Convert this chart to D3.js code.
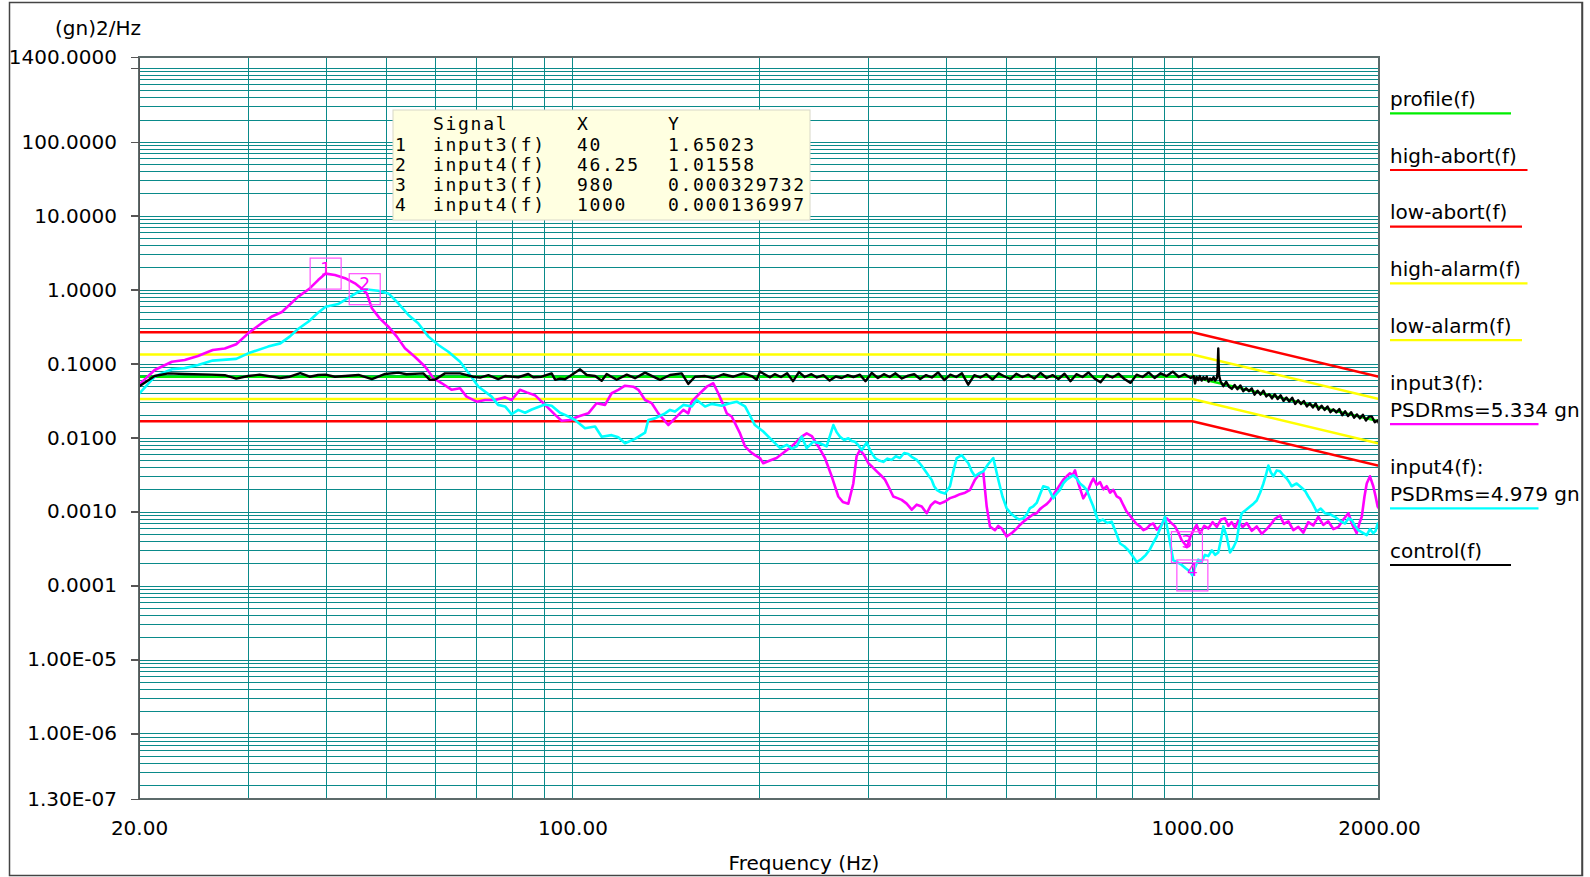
<!DOCTYPE html>
<html>
<head>
<meta charset="utf-8">
<title>PSD control plot</title>
<script src="https://d3js.org/d3.v7.min.js"></script>
<style>
  html, body { margin: 0; padding: 0; background: #fff; }
  svg { display: block; font-family: "DejaVu Sans", sans-serif; }
  .grid line { stroke: #0a8a8a; stroke-width: 1; shape-rendering: crispEdges; }
  .trace { fill: none; stroke-linejoin: round; stroke-linecap: round; }
  .axis path, .axis line { stroke: #555; stroke-width: 1.5; shape-rendering: crispEdges; }
  .axis text { font-family: "DejaVu Sans", sans-serif; font-size: 20px; fill: #000; }
</style>
</head>
<body>
<svg id="chart" width="1590" height="877"></svg>
<script>
'use strict';

// limit lines: breakpoints in Hz and levels in (gn)2/Hz
var limitFreq = [20, 1000, 2000];
var profileVals = [0.0665, 0.0665, 0.0166];
var highAbortVals = [0.266, 0.266, 0.0665];
var lowAbortVals = [0.0166, 0.0166, 0.00416];
var highAlarmVals = [0.133, 0.133, 0.0333];
var lowAlarmVals = [0.0333, 0.0333, 0.0083];

// input3(f) [Hz, (gn)2/Hz]
var input3 = [
  [20.0, 0.052], [21.2, 0.082], [22.6, 0.106], [23.7, 0.112], [24.9, 0.127], [26.3, 0.153],
  [27.5, 0.160], [28.7, 0.183], [30.0, 0.257], [31.5, 0.350], [32.7, 0.430], [34.0, 0.500],
  [36.1, 0.800], [37.7, 1.04], [38.9, 1.35], [40.0, 1.65], [41.4, 1.58], [43.0, 1.43],
  [44.6, 1.22], [45.7, 1.04], [46.6, 0.89], [47.5, 0.56], [48.9, 0.41], [50.5, 0.316],
  [52.1, 0.232], [53.7, 0.161], [55.7, 0.124], [57.9, 0.091], [59.7, 0.0636], [61.6, 0.0543],
  [63.9, 0.0443], [65.9, 0.0465], [67.5, 0.0358], [70.1, 0.0306], [72.3, 0.0323], [75.0, 0.0323],
  [77.9, 0.035], [79.8, 0.0323], [82.3, 0.0443], [84.4, 0.0409], [87.0, 0.0375], [89.8, 0.0292],
  [93.8, 0.0203], [96.1, 0.0169], [99.1, 0.0173], [102.2, 0.0193], [106.1, 0.0213], [109.4, 0.0292],
  [112.9, 0.0277], [115.7, 0.0398], [118.6, 0.0443], [121.6, 0.0503], [125.4, 0.0488], [127.8, 0.0443],
  [131.0, 0.0323], [134.3, 0.0292], [137.6, 0.0213], [142.8, 0.0148], [146.4, 0.0182], [151.0, 0.0237],
  [153.8, 0.0213], [155.8, 0.0306], [160.6, 0.0398], [164.7, 0.0488], [168.8, 0.0543], [171.9, 0.0398],
  [175.2, 0.0277], [177.4, 0.0213], [180.7, 0.0193], [184.1, 0.0141], [186.4, 0.0114], [189.9, 0.0076],
  [193.4, 0.0065], [197.0, 0.0058], [200.7, 0.0053], [203.2, 0.0045], [208.3, 0.0049], [213.5, 0.0053],
  [220.3, 0.0065], [225.8, 0.0076], [234.4, 0.0103], [238.8, 0.0114], [243.3, 0.0105], [249.3, 0.0076],
  [255.5, 0.0053], [262.0, 0.0030], [268.5, 0.0016], [273.0, 0.00135], [278.7, 0.00128], [283.9, 0.0024],
  [287.4, 0.0056], [291.0, 0.0068], [295.5, 0.0058], [300.2, 0.0045], [304.8, 0.0040], [309.7, 0.0035],
  [314.4, 0.0031], [319.3, 0.0027], [324.2, 0.0021], [329.3, 0.0016], [334.5, 0.00152], [339.8, 0.00144],
  [346.1, 0.00128], [352.7, 0.00106], [359.3, 0.00124], [366.0, 0.00117], [372.9, 0.00095], [378.7, 0.00122],
  [384.5, 0.00137], [391.6, 0.00128], [399.1, 0.00137], [406.5, 0.00152], [414.0, 0.0016], [422.0, 0.00172],
  [430.0, 0.0018], [438.0, 0.00197], [446.1, 0.0027], [454.5, 0.0033], [460.0, 0.0034], [465.9, 0.00117],
  [471.6, 0.00063], [480.4, 0.00056], [486.4, 0.00064], [492.6, 0.00059], [501.7, 0.00046], [511.2, 0.00051],
  [520.8, 0.00059], [527.0, 0.00066], [533.8, 0.00073], [540.5, 0.00079], [547.1, 0.00085], [553.9, 0.00092],
  [560.9, 0.00095], [567.8, 0.00108], [574.8, 0.00117], [582.1, 0.00126], [589.4, 0.00141], [596.7, 0.00168],
  [604.2, 0.00197], [611.7, 0.0023], [619.3, 0.0027], [627.0, 0.0030], [634.8, 0.0033], [640.7, 0.0031],
  [646.7, 0.0036], [654.7, 0.0024], [660.8, 0.0019], [666.9, 0.00151], [673.2, 0.00172], [679.5, 0.00197],
  [685.8, 0.0024], [692.2, 0.0028], [700.9, 0.0023], [709.6, 0.0025], [718.5, 0.0020], [727.6, 0.0022],
  [736.6, 0.0018], [745.7, 0.00197], [755.1, 0.0016], [764.6, 0.00151], [774.0, 0.00122], [783.4, 0.0010],
  [793.2, 0.00088], [803.0, 0.00077], [813.2, 0.00068], [823.4, 0.00063], [833.7, 0.00056], [844.0, 0.00059],
  [854.5, 0.00066], [865.0, 0.00069], [876.1, 0.00057], [887.2, 0.00063], [898.3, 0.00072], [909.4, 0.00081],
  [923.5, 0.00071], [937.6, 0.00063], [949.4, 0.00052], [961.2, 0.00041], [975.6, 0.00035], [980, 0.00033],
  [992, 0.00045], [1004, 0.00056], [1016, 0.00066], [1029, 0.00051], [1045, 0.00064], [1061, 0.00059],
  [1078, 0.00072], [1095, 0.00062], [1112, 0.00078], [1129, 0.00081], [1143, 0.00064], [1157, 0.00072],
  [1172, 0.00061], [1186, 0.00075], [1205, 0.00062], [1224, 0.00070], [1247, 0.00055], [1270, 0.00063],
  [1294, 0.00050], [1318, 0.00058], [1340, 0.00068], [1359, 0.00080], [1385, 0.00088], [1405, 0.00068],
  [1428, 0.00074], [1455, 0.00056], [1482, 0.00062], [1510, 0.00052], [1538, 0.00072], [1567, 0.00065],
  [1596, 0.00085], [1626, 0.00066], [1656, 0.00074], [1688, 0.00058], [1720, 0.00062], [1752, 0.00078],
  [1785, 0.00095], [1812, 0.00066], [1841, 0.00051], [1860, 0.00070], [1876, 0.00085], [1895, 0.0016],
  [1911, 0.0024], [1934, 0.0030], [1958, 0.0022], [1975, 0.0016], [1990, 0.00117], [2000, 0.0011]
];

// input4(f) [Hz, (gn)2/Hz]
var input4 = [
  [20.0, 0.039], [21.2, 0.067], [22.6, 0.084], [23.7, 0.087], [24.9, 0.096], [26.3, 0.110],
  [28.7, 0.116], [30.0, 0.138], [32.3, 0.170], [33.8, 0.188], [35.0, 0.232], [36.1, 0.294],
  [37.5, 0.369], [38.8, 0.48], [40.0, 0.589], [41.9, 0.64], [43.0, 0.726], [45.2, 0.94],
  [46.25, 1.016], [48.6, 0.97], [50.5, 0.89], [52.4, 0.655], [54.4, 0.455], [56.4, 0.351],
  [58.6, 0.232], [60.8, 0.179], [63.1, 0.145], [65.9, 0.106], [68.4, 0.0703], [70.5, 0.049],
  [74.1, 0.0358], [75.9, 0.0277], [77.9, 0.0264], [79.8, 0.0207], [81.8, 0.0237], [83.9, 0.0217],
  [86.0, 0.024], [90.3, 0.028], [92.6, 0.027], [95.5, 0.0217], [97.3, 0.0203], [101.0, 0.0173],
  [104.8, 0.0134], [108.8, 0.0141], [111.5, 0.0103], [115.7, 0.0108], [118.6, 0.0101], [121.6, 0.0084],
  [126.2, 0.0096], [131.0, 0.0117], [132.6, 0.0173], [135.9, 0.0182], [141.1, 0.0213], [143.7, 0.0237],
  [146.4, 0.0225], [151.0, 0.0277], [155.8, 0.0264], [158.7, 0.0323], [163.7, 0.0264], [167.8, 0.0286],
  [174.1, 0.0270], [179.6, 0.0292], [184.1, 0.0306], [189.9, 0.0264], [197.0, 0.0148], [203.2, 0.0121],
  [209.6, 0.0093], [216.3, 0.0072], [221.7, 0.0080], [226.0, 0.0071], [230.1, 0.0076], [234.4, 0.0103],
  [238.8, 0.0072], [244.7, 0.0088], [250.8, 0.0084], [257.1, 0.0076], [263.6, 0.0148], [266.9, 0.0118],
  [270.2, 0.0103], [274.4, 0.0093], [278.7, 0.0098], [282.1, 0.0090], [285.6, 0.0088], [289.2, 0.0079],
  [292.8, 0.0068], [298.4, 0.0086], [303.1, 0.0064], [307.8, 0.0053], [312.5, 0.0049], [317.3, 0.0047],
  [322.3, 0.0052], [327.3, 0.0050], [332.4, 0.0056], [337.6, 0.0053], [342.9, 0.0062], [348.2, 0.0060],
  [353.7, 0.0054], [359.3, 0.0050], [364.9, 0.0043], [370.5, 0.0036], [375.1, 0.0031], [379.7, 0.0027],
  [383.3, 0.0022], [386.9, 0.00197], [393.0, 0.00182], [399.1, 0.00175], [406.5, 0.0022], [411.6, 0.0035],
  [416.8, 0.0053], [424.5, 0.0058], [429.8, 0.0051], [435.2, 0.0045], [440.6, 0.0035], [446.1, 0.0030],
  [453.0, 0.0033], [460.1, 0.0035], [468.7, 0.0044], [477.4, 0.0053], [486.4, 0.0027], [494.0, 0.0016],
  [501.7, 0.00111], [509.6, 0.00094], [517.6, 0.00085], [525.7, 0.00078], [533.8, 0.00081], [540.4, 0.00092],
  [547.1, 0.00111], [554.0, 0.00118], [560.9, 0.00131], [567.8, 0.0017], [574.8, 0.0022], [585.6, 0.0021],
  [596.6, 0.00151], [604.1, 0.00175], [611.6, 0.00196], [619.3, 0.0024], [627.0, 0.0027], [634.8, 0.0029],
  [642.6, 0.0031], [650.7, 0.0028], [658.8, 0.0024], [667.1, 0.0022], [675.4, 0.00197], [683.8, 0.0015],
  [692.2, 0.00117], [698.8, 0.00092], [705.3, 0.00073], [716.8, 0.00078], [728.8, 0.00070], [741.2, 0.00073],
  [752.9, 0.00052], [764.6, 0.00037], [776.5, 0.00034], [788.4, 0.00030], [800.9, 0.00025], [813.4, 0.000208],
  [828.7, 0.00023], [841.5, 0.00026], [854.4, 0.00031], [865.2, 0.00038], [876.0, 0.00046], [889.7, 0.00062],
  [903.4, 0.00085], [914.6, 0.00051], [931.6, 0.00022], [946.4, 0.000205], [961.2, 0.00019], [976.2, 0.00017],
  [991.2, 0.000155], [1000, 0.000137], [1011, 0.00018], [1022, 0.000224], [1035, 0.00021], [1048, 0.00026],
  [1061, 0.00025], [1075, 0.00030], [1088, 0.00026], [1101, 0.00028], [1112, 0.00042], [1122, 0.00063],
  [1136, 0.00046], [1150, 0.00028], [1165, 0.00033], [1179, 0.00041], [1190, 0.00066], [1201, 0.00095],
  [1220, 0.00105], [1239, 0.00117], [1255, 0.00128], [1270, 0.00141], [1286, 0.0018], [1302, 0.0024],
  [1314, 0.0031], [1326, 0.0042], [1338, 0.0034], [1351, 0.0030], [1368, 0.0036], [1385, 0.0035],
  [1402, 0.0031], [1420, 0.0028], [1433, 0.0025], [1446, 0.0022], [1473, 0.0024], [1501, 0.0021],
  [1520, 0.0019], [1538, 0.0016], [1562, 0.0013], [1587, 0.0010], [1611, 0.0011], [1636, 0.00095],
  [1667, 0.00092], [1698, 0.00085], [1730, 0.00075], [1763, 0.00069], [1785, 0.00081], [1807, 0.00077],
  [1830, 0.00064], [1852, 0.00056], [1881, 0.00052], [1911, 0.00048], [1934, 0.00058], [1958, 0.00051],
  [1975, 0.00055], [1990, 0.00069], [2000, 0.00062]
];

// control(f) [Hz, (gn)2/Hz]
var control = [
  [20.0, 0.049], [21.2, 0.068], [22.3, 0.0739], [23.7, 0.0725], [26.2, 0.071], [27.5, 0.0698],
  [28.7, 0.0627], [30.0, 0.068], [31.3, 0.071], [33.8, 0.064], [35.0, 0.0666], [36.4, 0.0747],
  [37.7, 0.0666], [38.9, 0.0703], [40.0, 0.071], [41.4, 0.0666], [43.0, 0.068], [45.2, 0.0703],
  [47.5, 0.0616], [49.9, 0.0725], [52.4, 0.0756], [54.0, 0.0719], [57.5, 0.0739], [58.9, 0.0605],
  [60.0, 0.0605], [62.3, 0.0739], [65.9, 0.0739], [69.2, 0.0666], [71.0, 0.0649], [73.2, 0.0698],
  [75.9, 0.0616], [77.9, 0.068], [81.8, 0.0655], [84.9, 0.0725], [86.5, 0.0655], [89.2, 0.0666],
  [92.6, 0.0739], [93.8, 0.0605], [95.5, 0.0627], [97.3, 0.0616], [99.7, 0.0703], [102.9, 0.0838],
  [105.5, 0.0703], [108.8, 0.068], [111.5, 0.0587], [113.6, 0.0725], [117.9, 0.0605], [122.4, 0.071],
  [126.2, 0.0636], [131.0, 0.0756], [138.5, 0.0605], [143.7, 0.0703], [150.1, 0.0739], [153.8, 0.0533],
  [157.7, 0.0666], [163.7, 0.068], [168.8, 0.0636], [175.2, 0.0719], [181.8, 0.0666], [188.7, 0.0739],
  [194.6, 0.068], [198.3, 0.0605], [200.7, 0.078], [208.3, 0.0655], [212, 0.072], [217, 0.066],
  [222, 0.074], [227, 0.058], [232, 0.077], [237, 0.066], [243, 0.072], [248, 0.065],
  [254, 0.070], [260, 0.059], [266, 0.067], [272, 0.064], [278, 0.070], [284, 0.066],
  [291, 0.071], [297, 0.058], [304, 0.075], [311, 0.064], [318, 0.072], [325, 0.066],
  [332, 0.074], [340, 0.063], [348, 0.069], [356, 0.072], [364, 0.062], [372, 0.070],
  [380, 0.065], [389, 0.076], [398, 0.060], [407, 0.071], [416, 0.066], [425, 0.074],
  [435, 0.052], [445, 0.070], [455, 0.065], [465, 0.072], [476, 0.061], [487, 0.074],
  [498, 0.067], [509, 0.062], [520, 0.073], [532, 0.066], [544, 0.071], [556, 0.063],
  [569, 0.075], [582, 0.064], [595, 0.070], [608, 0.062], [622, 0.073], [636, 0.058],
  [650, 0.072], [665, 0.066], [680, 0.076], [695, 0.063], [711, 0.056], [727, 0.071],
  [743, 0.065], [760, 0.073], [777, 0.062], [795, 0.055], [813, 0.071], [831, 0.066],
  [850, 0.076], [869, 0.064], [889, 0.074], [909, 0.068], [930, 0.078], [951, 0.066],
  [972, 0.072], [994, 0.064], [1005, 0.068], [1010, 0.054], [1016, 0.066], [1022, 0.060],
  [1028, 0.068], [1035, 0.059], [1042, 0.066], [1048, 0.061], [1055, 0.067], [1062, 0.057],
  [1068, 0.063], [1075, 0.060], [1082, 0.066], [1088, 0.059], [1095, 0.064], [1098, 0.075],
  [1101, 0.160], [1104, 0.070], [1110, 0.0578], [1122, 0.0496], [1134, 0.0569], [1146, 0.0486],
  [1158, 0.0456], [1170, 0.0515], [1182, 0.0452], [1195, 0.0508], [1208, 0.0424], [1221, 0.0464],
  [1234, 0.0424], [1247, 0.0462], [1260, 0.0381], [1274, 0.0431], [1288, 0.0381], [1302, 0.0431],
  [1316, 0.0361], [1330, 0.0387], [1344, 0.0339], [1358, 0.0386], [1373, 0.0332], [1388, 0.0373],
  [1403, 0.0314], [1418, 0.0348], [1433, 0.0308], [1449, 0.0346], [1465, 0.0285], [1481, 0.0321],
  [1497, 0.0285], [1513, 0.0313], [1530, 0.0264], [1547, 0.0292], [1564, 0.0256], [1581, 0.0290],
  [1598, 0.0239], [1616, 0.0270], [1634, 0.0237], [1652, 0.0264], [1670, 0.0221], [1688, 0.0242],
  [1707, 0.0219], [1726, 0.0243], [1745, 0.0201], [1764, 0.0227], [1783, 0.0196], [1803, 0.0221],
  [1823, 0.0186], [1843, 0.0206], [1863, 0.0182], [1884, 0.0204], [1905, 0.0170], [1926, 0.0192],
  [1947, 0.0193], [1969, 0.0162], [1991, 0.0171], [2000, 0.0155]
];

// cursor readout
var cursorIds = ['1', '2', '3', '4'];
var cursorSignals = ['input3(f)', 'input4(f)', 'input3(f)', 'input4(f)'];
var cursorX = [40, 46.25, 980, 1000];
var cursorY = [1.65023, 1.01558, 0.000329732, 0.000136997];

var psdRms = [5.334, 4.979];

// axis ticks
var yTickVals = [1400, 1000, 100, 10, 1, 0.1, 0.01, 0.001, 0.0001, 1e-5, 1e-6, 1.3e-7];
var yTickLabels = ['1400.0000', '', '100.0000', '10.0000', '1.0000', '0.1000', '0.0100',
  '0.0010', '0.0001', '1.00E-05', '1.00E-06', '1.30E-07'];
var xTickVals = [20, 100, 1000, 2000];
var xTickLabels = ['20.00', '100.00', '1000.00', '2000.00'];

function zip(xs, ys) {
  return xs.map(function(v, i) { return [v, ys[i]]; });
}

function draw() {
  var plot = { left: 139, top: 57, right: 1379, bottom: 799 };
  var $svg = d3.select('#chart');

  var xScale = d3.scaleLog().domain([20, 2000]).range([plot.left, plot.right]);
  var yScale = d3.scaleLog().domain([1.3e-7, 1400]).range([plot.bottom, plot.top]);

  // outer frame
  $svg.append('rect')
    .attr('x', 9.5).attr('y', 2.5).attr('width', 1573).attr('height', 873)
    .attr('fill', 'none').attr('stroke', '#444').attr('stroke-width', 1.5);

  // grid
  var hVals = [];
  var vVals = [];
  var e, m, v;
  for (e = -7; e <= 3; e++) {
    for (m = 1; m <= 9; m++) {
      v = m * Math.pow(10, e);
      if (v > 1.3e-7 * 1.01 && v < 1400) hVals.push(v);
    }
  }
  for (e = 1; e <= 3; e++) {
    for (m = 1; m <= 9; m++) {
      v = m * Math.pow(10, e);
      if (v > 20 && v < 2000) vVals.push(v);
    }
  }
  var $grid = $svg.append('g').attr('class', 'grid');
  $grid.selectAll('line.h').data(hVals).enter().append('line')
    .attr('class', 'h')
    .attr('x1', plot.left).attr('x2', plot.right)
    .attr('y1', function(d) { return Math.round(yScale(d)) + 0.5; })
    .attr('y2', function(d) { return Math.round(yScale(d)) + 0.5; });
  $grid.selectAll('line.v').data(vVals).enter().append('line')
    .attr('class', 'v')
    .attr('y1', plot.top).attr('y2', plot.bottom)
    .attr('x1', function(d) { return Math.round(xScale(d)) + 0.5; })
    .attr('x2', function(d) { return Math.round(xScale(d)) + 0.5; });

  // traces
  $svg.append('defs').append('clipPath').attr('id', 'plotClip')
    .append('rect')
    .attr('x', plot.left).attr('y', plot.top)
    .attr('width', plot.right - plot.left).attr('height', plot.bottom - plot.top);

  var line = d3.line()
    .x(function(d) { return xScale(d[0]); })
    .y(function(d) { return yScale(d[1]); });

  var traces = [
    { data: zip(limitFreq, profileVals), color: '#00ee00', width: 2.5 },
    { data: zip(limitFreq, highAbortVals), color: '#ff0000', width: 2.5 },
    { data: zip(limitFreq, lowAbortVals), color: '#ff0000', width: 2.5 },
    { data: zip(limitFreq, highAlarmVals), color: '#ffff00', width: 2.5 },
    { data: zip(limitFreq, lowAlarmVals), color: '#ffff00', width: 2.5 },
    { data: input3, color: '#ff00ff', width: 2.6 },
    { data: input4, color: '#00ffff', width: 2.6 },
    { data: control, color: '#000000', width: 2.4 }
  ];

  $svg.append('g').attr('clip-path', 'url(#plotClip)')
    .selectAll('path.trace').data(traces).enter().append('path')
    .attr('class', 'trace')
    .attr('d', function(d) { return line(d.data); })
    .attr('stroke', function(d) { return d.color; })
    .attr('stroke-width', function(d) { return d.width; });

  // plot border
  $svg.append('rect')
    .attr('x', plot.left).attr('y', plot.top)
    .attr('width', plot.right - plot.left).attr('height', plot.bottom - plot.top)
    .attr('fill', 'none').attr('stroke', '#5c6b6b').attr('stroke-width', 1.5)
    .attr('shape-rendering', 'crispEdges');

  // axes
  var yAxis = d3.axisLeft(yScale)
    .tickValues(yTickVals)
    .tickFormat(function(d, i) { return yTickLabels[i]; })
    .tickSize(8).tickSizeOuter(0).tickPadding(14);
  $svg.append('g').attr('class', 'axis')
    .attr('transform', 'translate(' + plot.left + ',0)')
    .call(yAxis)
    .call(function(g) { g.attr('font-family', null).attr('font-size', null); });

  var xAxis = d3.axisBottom(xScale)
    .tickValues(xTickVals)
    .tickFormat(function(d, i) { return xTickLabels[i]; })
    .tickSize(0).tickSizeOuter(0).tickPadding(22);
  $svg.append('g').attr('class', 'axis')
    .attr('transform', 'translate(0,' + plot.bottom + ')')
    .call(xAxis)
    .call(function(g) {
      g.attr('font-family', null).attr('font-size', null);
      g.select('.domain').remove();
    });

  $svg.append('text')
    .attr('x', 55).attr('y', 35)
    .attr('font-size', 20)
    .text('(gn)2/Hz');

  $svg.append('text')
    .attr('x', 804).attr('y', 870)
    .attr('text-anchor', 'middle')
    .attr('font-size', 20)
    .text('Frequency (Hz)');

  // cursor markers
  var markers = cursorIds.map(function(id, i) {
    return { id: id, x: xScale(cursorX[i]), y: yScale(cursorY[i]) };
  });
  var $mk = $svg.append('g').selectAll('g.marker').data(markers).enter().append('g')
    .attr('class', 'marker');
  $mk.append('rect')
    .attr('x', function(d) { return d.x - 15.5; })
    .attr('y', function(d) { return d.y - 15.5; })
    .attr('width', 31).attr('height', 31)
    .attr('fill', 'none').attr('stroke', '#ff50ff').attr('stroke-width', 1.2);
  $mk.append('text')
    .attr('x', function(d) { return d.x; })
    .attr('y', function(d) { return d.y + 1; })
    .attr('text-anchor', 'middle')
    .attr('font-size', 17)
    .attr('fill', '#ff00ff')
    .text(function(d) { return d.id; });

  // cursor table
  var $tbl = $svg.append('g');
  $tbl.append('rect')
    .attr('x', 393).attr('y', 110).attr('width', 417).attr('height', 110)
    .attr('fill', '#ffffe1').attr('stroke', '#d8d8c8').attr('stroke-width', 1);
  var cols = [395, 433, 577, 668];
  var rows = [['', 'Signal', 'X', 'Y']].concat(cursorIds.map(function(id, i) {
    return [id, cursorSignals[i], String(cursorX[i]), String(cursorY[i])];
  }));
  var rowY = [130, 151, 171, 191, 211];
  rows.forEach(function(r, ri) {
    $tbl.selectAll(null).data(r).enter().append('text')
      .attr('x', function(d, ci) { return cols[ci]; })
      .attr('y', rowY[ri])
      .attr('font-family', '"DejaVu Sans Mono", monospace')
      .attr('font-size', 18)
      .style('letter-spacing', '1.7px')
      .text(function(d) { return d; });
  });

  // legend
  var legend = [
    { lines: ['profile(f)'], color: '#00ee00' },
    { lines: ['high-abort(f)'], color: '#ff0000' },
    { lines: ['low-abort(f)'], color: '#ff0000' },
    { lines: ['high-alarm(f)'], color: '#ffff00' },
    { lines: ['low-alarm(f)'], color: '#ffff00' },
    { lines: ['input3(f):', 'PSDRms=' + psdRms[0].toFixed(3) + ' gn'], color: '#ff00ff' },
    { lines: ['input4(f):', 'PSDRms=' + psdRms[1].toFixed(3) + ' gn'], color: '#00ffff' },
    { lines: ['control(f)'], color: '#000000' }
  ];
  var $lg = $svg.append('g');
  var base = 106;
  legend.forEach(function(item) {
    var maxChars = 0;
    item.lines.forEach(function(t, li) {
      $lg.append('text')
        .attr('x', 1390).attr('y', base + li * 27.4)
        .attr('font-size', 20)
        .text(t);
      maxChars = Math.max(maxChars, t.length);
    });
    var last = base + (item.lines.length - 1) * 27.4;
    $lg.append('line')
      .attr('x1', 1390).attr('x2', 1390 + 66 + 5.5 * maxChars)
      .attr('y1', last + 7.3).attr('y2', last + 7.3)
      .attr('stroke', item.color).attr('stroke-width', 2.2);
    base = last + 56.7;
  });

  // frame right edge drawn over the legend text that runs into it
  $svg.append('line')
    .attr('x1', 1582).attr('x2', 1582).attr('y1', 2.5).attr('y2', 875.5)
    .attr('stroke', '#444').attr('stroke-width', 1.5);
}

draw();
</script>
</body>
</html>
